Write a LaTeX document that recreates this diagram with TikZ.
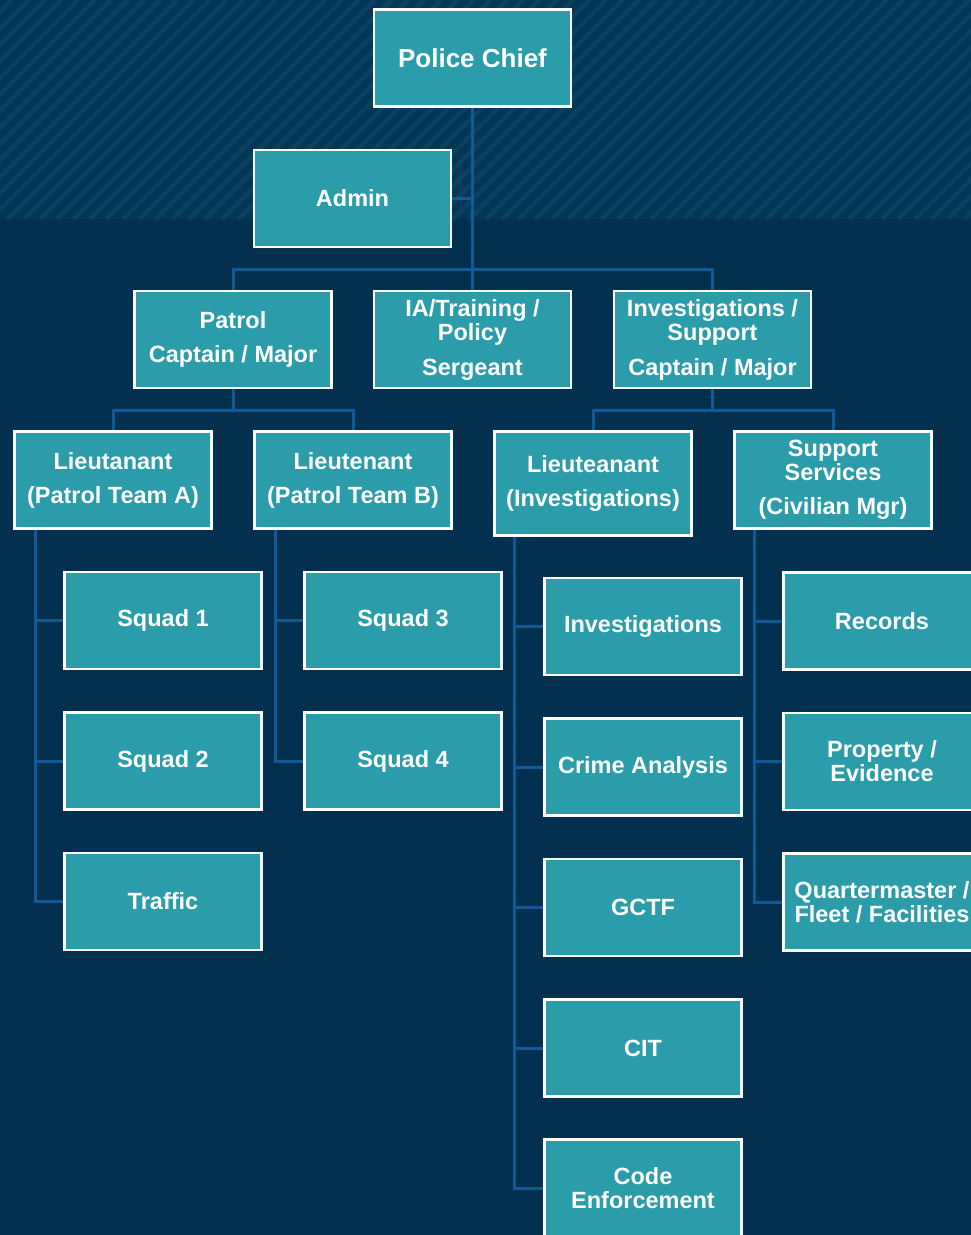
\documentclass[tikz,border=0pt]{standalone}
\usepackage{fontspec}
\setmainfont{Liberation Sans}
\definecolor{bgnavy}{RGB}{2,48,78}
\definecolor{hatchbase}{RGB}{4,55,86}
\definecolor{hatchline}{RGB}{12,66,97}
\definecolor{boxteal}{RGB}{42,156,170}
\definecolor{connblue}{RGB}{18,90,150}
\tikzset{
  orgbox/.style={draw=white, line width=2.5pt, fill=boxteal, text=white,
    minimum width=197pt, minimum height=97pt, align=center, inner sep=0pt,
    font=\bfseries\fontsize{23.5}{24}\selectfont},
  conn/.style={draw=connblue, line width=3pt}
}
\begin{document}
\begin{tikzpicture}[x=1pt,y=-1pt]
\clip (0,0) rectangle (971,1235);
\fill[bgnavy] (0,0) rectangle (971,1235);
\fill[hatchbase] (0,0) rectangle (971,219);
\begin{scope}
\clip (0,0) rectangle (971,219);
\foreach \i in {-240,-223.5,...,990}{
  \draw[hatchline, line width=4.5pt] (\i,219) -- ({\i+219},0);
}
\end{scope}

% nodes
\node[orgbox, font=\bfseries\fontsize{26}{28}\selectfont] (chief) at (472.5,58) {Police Chief};
\node[orgbox] (admin) at (352.5,198.5) {Admin};
\node[orgbox] (patrol) at (233,339.5) {Patrol\\[10pt]Captain / Major};
\node[orgbox] (ia) at (472.5,339.5) {IA/Training /\\Policy\\[11pt]Sergeant};
\node[orgbox] (inv) at (712.5,339.5) {Investigations /\\Support\\[11pt]Captain / Major};
\node[orgbox] (ltA) at (113,480) {Lieutanant\\[10pt](Patrol Team A)};
\node[orgbox] (ltB) at (353,480) {Lieutenant\\[10pt](Patrol Team B)};
\node[orgbox, minimum height=104pt] (ltI) at (593,483.5) {Lieuteanant\\[10pt](Investigations)};
\node[orgbox] (sup) at (833,480) {Support\\Services\\[10pt](Civilian Mgr)};
\node[orgbox] (sq1) at (163,620.5) {Squad 1};
\node[orgbox] (sq2) at (163,761) {Squad 2};
\node[orgbox] (traffic) at (163,901.5) {Traffic};
\node[orgbox] (sq3) at (403,620.5) {Squad 3};
\node[orgbox] (sq4) at (403,761) {Squad 4};
\node[orgbox] (invest) at (643,626.5) {Investigations};
\node[orgbox] (crime) at (643,767) {Crime Analysis};
\node[orgbox] (gctf) at (643,907.5) {GCTF};
\node[orgbox] (cit) at (643,1048) {CIT};
\node[orgbox] (code) at (643,1188) {Code\\Enforcement};
\node[orgbox] (records) at (882,621) {Records};
\node[orgbox] (prop) at (882,761.5) {Property /\\Evidence};
\node[orgbox] (quart) at (882,902) {Quartermaster /\\Fleet / Facilities};

% connectors
\coordinate (barA) at (472.5,269);
\coordinate (barB) at (233,410);
\coordinate (barC) at (712.5,410);
\coordinate (vA) at (35,530);
\coordinate (vB) at (275,530);
\coordinate (vI) at (514,537);
\coordinate (vS) at (754,530);

\draw[conn] (chief.south) -- (ia.north);
\draw[conn] (admin.east) -- (admin.east -| chief.south);
\draw[conn] (patrol.north) |- (barA) -| (inv.north);
\draw[conn] (patrol.south) -- (barB);
\draw[conn] (ltA.north) |- (barB) -| (ltB.north);
\draw[conn] (inv.south) -- (barC);
\draw[conn] (ltI.north) |- (barC) -| (sup.north);

\draw[conn] (vA) |- (traffic.west);
\draw[conn] (vA |- sq1.west) -- (sq1.west);
\draw[conn] (vA |- sq2.west) -- (sq2.west);

\draw[conn] (vB) |- (sq4.west);
\draw[conn] (vB |- sq3.west) -- (sq3.west);

\draw[conn] (vI) |- (code.west);
\draw[conn] (vI |- invest.west) -- (invest.west);
\draw[conn] (vI |- crime.west) -- (crime.west);
\draw[conn] (vI |- gctf.west) -- (gctf.west);
\draw[conn] (vI |- cit.west) -- (cit.west);

\draw[conn] (vS) |- (quart.west);
\draw[conn] (vS |- records.west) -- (records.west);
\draw[conn] (vS |- prop.west) -- (prop.west);
\end{tikzpicture}
\end{document}
